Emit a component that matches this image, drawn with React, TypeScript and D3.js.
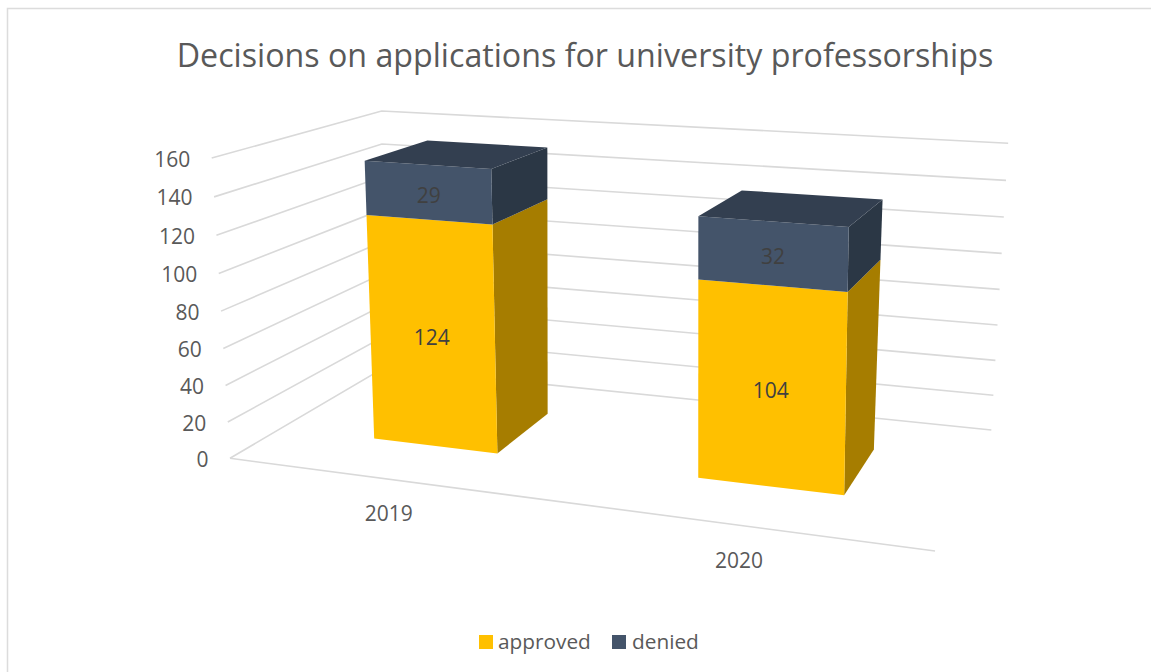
import React from "react";
import * as d3 from "d3";

const title = "Decisions on applications for university professorships";
const years = ["2019", "2020"];
const approved = [124, 104];
const denied = [29, 32];
const valueTicks = [0, 20, 40, 60, 80, 100, 120, 140, 160];

const WIDTH = 1151;
const HEIGHT = 672;
const FONT = "'Open Sans', sans-serif";

// Fitted perspective of the chart box: floor homography + wall-top numerators
const floor = { a: 551.7, b: 220.65, c: 230, d: 2.3, e: -25.9, f: 458.3, g: -0.164, h: 0.1751 };
const wallTop = { a: 568.6, b: 239.5, c: 211.7, d: 13.7, e: -26.8, f: 158 };
const K = -0.039;

const vScale = d3.scaleLinear().domain([0, 160]).range([0, 1]);
const barBand = d3.scaleBand<string>().domain(years).range([0.0075, 1.0075]);
const labelBand = d3.scaleBand<string>().domain(years).range([0, 1]);
const BAR_W = 0.2;
const DEPTH: [number, number] = [0.307, 0.708];

function project(u: number, w: number, value: number): [number, number] {
  const v = vScale(value);
  const D = 1 + floor.g * u + floor.h * w + K * v;
  const t = 1 - v;
  const s = v * (1 + K);
  const nx = t * (floor.a * u + floor.b * w + floor.c) + s * (wallTop.a * u + wallTop.b * w + wallTop.c);
  const ny = t * (floor.d * u + floor.e * w + floor.f) + s * (wallTop.d * u + wallTop.e * w + wallTop.f);
  return [nx / D, ny / D];
}

const line = d3.line<[number, number]>();
const poly = (pts: [number, number][]) => (line(pts) ?? "") + "Z";

function barFaces(year: string, lo: number, hi: number) {
  const uc = barBand(year)! + barBand.bandwidth() / 2;
  const u0 = uc - BAR_W / 2;
  const u1 = uc + BAR_W / 2;
  const [w0, w1] = DEPTH;
  return {
    front: poly([project(u0, w0, lo), project(u1, w0, lo), project(u1, w0, hi), project(u0, w0, hi)]),
    side: poly([project(u1, w0, lo), project(u1, w1, lo), project(u1, w1, hi), project(u1, w0, hi)]),
    top: poly([project(u0, w0, hi), project(u1, w0, hi), project(u1, w1, hi), project(u0, w1, hi)]),
    center: project(uc, w0, (lo + hi) / 2),
  };
}

const GRID = "#d9d9d9";
const TEXT = "#595959";
const LABEL = "#404040";
const colors = {
  approved: { front: "#FFC000", side: "#A67D00" },
  denied: { front: "#44546A", side: "#2B3745", top: "#333F50" },
};

export default function App() {
  const floorFrontA = project(0, 0, 0);
  const floorFrontB = project(1, 0, 0);
  return (
    <svg
      width={WIDTH}
      height={HEIGHT}
      viewBox={`0 0 ${WIDTH} ${HEIGHT}`}
      style={{ position: "absolute", left: 0, top: 0, background: "#fff" }}
      fontFamily={FONT}
    >
      <rect x={7.5} y={8.5} width={WIDTH + 20} height={HEIGHT + 20} fill="none" stroke="#dcdcdc" strokeWidth={1.5} />
      <text x={585} y={66.5} textAnchor="middle" fontSize={32.2} fill={TEXT}>{title}</text>

      {valueTicks.map((t) => {
        const pts: [number, number][] = [project(0, 0, t), project(0, 1, t), project(1, 1, t)];
        return <path key={t} d={line(pts) ?? ""} fill="none" stroke={GRID} strokeWidth={1.6} />;
      })}
      <path d={line([floorFrontA, floorFrontB]) ?? ""} fill="none" stroke={GRID} strokeWidth={1.6} />

      {valueTicks.map((t) => {
        const [x, y] = project(0, 0, t);
        return (
          <text key={t} x={x - 21.5} y={y + 8.5} textAnchor="end" fontSize={21} fill={TEXT}>{t}</text>
        );
      })}

      {years.map((yr) => {
        const [x, y] = project(labelBand(yr)! + labelBand.bandwidth() / 2, 0, 0);
        return (
          <text key={yr} x={x + 5} y={y + 43} textAnchor="middle" fontSize={21} fill={TEXT}>{yr}</text>
        );
      })}

      {years.map((yr, i) => {
        const a = barFaces(yr, 0, approved[i]);
        const b = barFaces(yr, approved[i], approved[i] + denied[i]);
        return (
          <g key={yr}>
            <path d={a.side} fill={colors.approved.side} />
            <path d={a.front} fill={colors.approved.front} />
            <path d={b.side} fill={colors.denied.side} />
            <path d={b.front} fill={colors.denied.front} />
            <path d={b.top} fill={colors.denied.top} />
            <text x={a.center[0]} y={a.center[1] + 10.5} textAnchor="middle" fontSize={21} fill={LABEL}>{approved[i]}</text>
            <text x={b.center[0] + 1} y={b.center[1] + 10.5} textAnchor="middle" fontSize={21} fill={LABEL}>{denied[i]}</text>
          </g>
        );
      })}

      <g>
        <rect x={479} y={635} width={14} height={14} fill={colors.approved.front} />
        <text x={498} y={649} fontSize={20.8} fill={TEXT}>approved</text>
        <rect x={612} y={635} width={14} height={14} fill={colors.denied.front} />
        <text x={632} y={649} fontSize={20.8} fill={TEXT}>denied</text>
      </g>
    </svg>
  );
}
